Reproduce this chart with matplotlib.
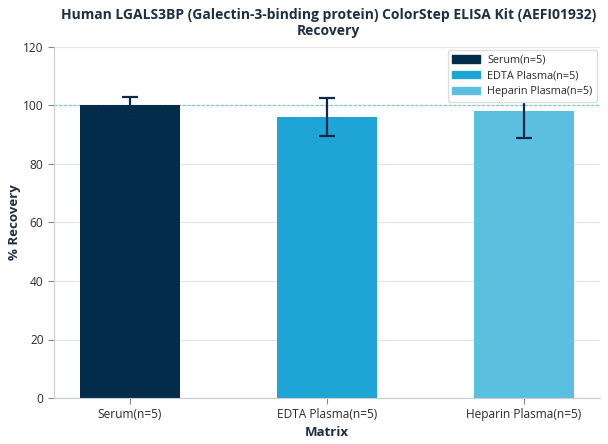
import matplotlib
matplotlib.use("Agg")
import matplotlib.pyplot as plt
from matplotlib.patches import Patch
from matplotlib import font_manager

categories = ["Serum(n=5)", "EDTA Plasma(n=5)", "Heparin Plasma(n=5)"]
values = [100, 96, 98]
errors = [3, 6.5, 9]
colors = ["#032B4A", "#1FA5D5", "#5BC0E0"]
yticks = [0, 20, 40, 60, 80, 100, 120]

names = {f.name for f in font_manager.fontManager.ttflist}
bold_ok = [f.name for f in font_manager.fontManager.ttflist if f.weight in (700, 'bold')]
fam = 'Noto Sans' if 'Noto Sans' in bold_ok else ('Open Sans' if 'Open Sans' in names else 'DejaVu Sans')
plt.rcParams['font.family'] = [fam, 'DejaVu Sans']
text_color = "#1C2F45"

fig = plt.figure(figsize=(6.08, 4.44), dpi=100)
ax = fig.add_axes([54/608, 1-398/444, (600-54)/608, (398-47)/444])

x = list(range(len(categories)))
ax.set_axisbelow(True)
ax.yaxis.grid(True, color="#E3E6E9", linewidth=0.9)
ax.bar(x, values, width=0.51, color=colors, zorder=2)
ax.errorbar(x, values, yerr=errors, fmt="none", ecolor="#0B2A47",
            elinewidth=1.6, capsize=6, capthick=1.6, zorder=3)
ax.axhline(100, color="#7FCAD4", linestyle=(0, (2.4, 1.4)), linewidth=0.9, zorder=1.5)

ax.set_xlim(-0.385, 2.385)
ax.set_ylim(0, 120)
ax.set_yticks(yticks)
ax.set_xticks(x)
ax.set_xticklabels(categories)
ax.tick_params(axis="both", colors="#888888", labelcolor="#2B2B2B", labelsize=8.6, length=4)

for s in ["top", "right"]:
    ax.spines[s].set_visible(False)
for s in ["left", "bottom"]:
    ax.spines[s].set_color("#C8CDD2")

ax.set_xlabel("Matrix", fontsize=9.5, fontweight="bold", color=text_color, labelpad=3)
ax.set_ylabel("% Recovery", fontsize=9.5, fontweight="bold", color=text_color)
ax.yaxis.set_label_coords(-0.06, 0.5)
fig.suptitle("Human LGALS3BP (Galectin-3-binding protein) ColorStep ELISA Kit (AEFI01932)\nRecovery",
             x=0.54, y=0.982, fontsize=10, fontweight="bold", color=text_color, linespacing=1.2)

handles = [Patch(color=c) for c in colors]
leg = ax.legend(handles, categories, loc="upper right", fontsize=7.8, frameon=True,
                fancybox=True, framealpha=1, edgecolor="#DDDDDD",
                borderaxespad=0.3, handlelength=2.5, handleheight=0.7,
                labelspacing=0.45, handletextpad=0.7)
for t in leg.get_texts():
    t.set_color("#2B2B2B")

fig.savefig("out.png", dpi=100)
